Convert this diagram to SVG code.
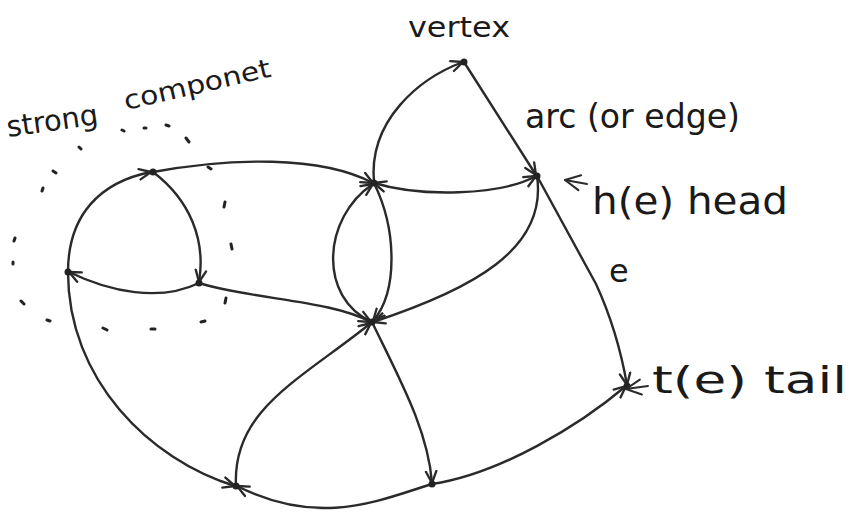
<svg xmlns="http://www.w3.org/2000/svg" width="851" height="529" viewBox="0 0 851 529">
<style>
.e{fill:none;stroke:#2a2a2a;stroke-width:2.4;stroke-linecap:round;stroke-linejoin:round}
.a{marker-end:url(#ah)}
.dot{fill:#222}
.t{font-family:"DejaVu Sans","Liberation Sans",sans-serif;fill:#1a1a1a}
.d{fill:none;stroke:#222;stroke-width:3;stroke-linecap:round}
</style>
<defs>
<marker id="ah" viewBox="0 0 12 12" refX="11" refY="6" markerWidth="14" markerHeight="14" orient="auto-start-reverse" markerUnits="userSpaceOnUse">
<path d="M1,1.5 L11,6 L1,10.5" fill="none" stroke="#2a2a2a" stroke-width="2" stroke-linecap="round" stroke-linejoin="round"/>
</marker>
<marker id="ah2" viewBox="0 0 12 12" refX="11" refY="6" markerWidth="18" markerHeight="18" orient="auto-start-reverse" markerUnits="userSpaceOnUse">
<path d="M1,1 L11,6 L1,11" fill="none" stroke="#2a2a2a" stroke-width="1.4" stroke-linecap="round" stroke-linejoin="round"/>
</marker>
</defs>
<g id="connectors">
<path class="e a" d="M68,272 C68,215 100,182 151,172"/>
<path class="e a" d="M153,172 C190,200 206,240 199,282"/>
<path class="e a" d="M199,283 C160,302 110,292 69,272"/>
<path class="e a" d="M153,172 C230,158 320,155 373,183"/>
<path class="e a" d="M374,183 C368,120 420,78 463,62"/>
<path class="e a" d="M464,62 L536,175"/>
<path class="e a" d="M374,183 C420,197 500,196 536,176" style="marker-start:url(#ah)"/>
<path class="e a" d="M372,322 C318,298 322,218 373,184"/>
<path class="e a" d="M374,183 C397,230 398,292 373,321"/>
<path class="e a" d="M537,176 C548,250 470,290 373,322"/>
<path class="e a" d="M199,283 C255,300 330,300 371,322"/>
<path class="e a" d="M236,486 C232,410 300,380 371,323"/>
<path class="e a" d="M372,322 C400,380 428,430 432,483"/>
<path class="e a" d="M68,272 C68,380 150,460 235,486"/>
<path class="e a" d="M432,484 C380,500 320,528 237,486"/>
<path class="e a" d="M432,484 C500,474 580,425 626,386"/>
<path class="e a" d="M537,176 L596,284 C608,310 620,345 627,385"/>
</g>
<g id="nodes">
<g id="vA"><circle class="dot" cx="153" cy="172" r="3.5" fill="#3a4a2a"/></g>
<g id="vB"><circle class="dot" cx="68" cy="272" r="3.5"/></g>
<g id="vC"><circle class="dot" cx="199" cy="283" r="3.5"/></g>
<g id="vD"><circle class="dot" cx="374" cy="183" r="3.5"/></g>
<g id="vE"><circle class="dot" cx="464" cy="62" r="3.5"/></g>
<g id="vF"><circle class="dot" cx="537" cy="176" r="3.5"/></g>
<g id="vG"><circle class="dot" cx="372" cy="322" r="3.5"/></g>
<g id="vH"><circle class="dot" cx="627" cy="386" r="3.5"/></g>
<g id="vI"><circle class="dot" cx="236" cy="486" r="3.5"/></g>
<g id="vJ"><circle class="dot" cx="432" cy="484" r="3.5"/></g>
</g>
<g id="strong-component">
<path class="d" d="M186,138 l3,4 M166,125 l3,1 M144,128 l2,0 M122,130 l2,1 M79,147 l2,2 M53,171 l3,2 M43,188 l-1,3 M15,238 l-1,3 M13,262 l0,2 M21,301 l3,3 M47,320 l3,1 M103,328 l4,2 M151,329 l4,0 M201,322 l4,-1 M226,298 l-1,5 M231,244 l1,5 M225,202 l-1,5 M208,167 l3,2"/>
<text class="t" x="8" y="137" font-size="29" transform="rotate(-8 8 137)" textLength="92" lengthAdjust="spacingAndGlyphs">strong</text>
<text class="t" x="126" y="110" font-size="26" transform="rotate(-13 126 110)" textLength="150" lengthAdjust="spacingAndGlyphs">componet</text>
</g>
<g id="labels">
<text class="t" x="408" y="37" font-size="28" textLength="102" lengthAdjust="spacingAndGlyphs">vertex</text>
<text class="t" x="525" y="128" font-size="33" textLength="215" lengthAdjust="spacingAndGlyphs">arc (or edge)</text>
<path class="e" d="M587,184 L565,180" style="marker-end:url(#ah2);stroke-width:2"/>
<text class="t" x="592" y="214" font-size="38" textLength="196" lengthAdjust="spacingAndGlyphs">h(e)  head</text>
<text class="t" x="609" y="282" font-size="32">e</text>
<path class="e" d="M648,386 L626,389" style="marker-end:url(#ah2);stroke-width:2"/>
<text class="t" x="652" y="393" font-size="38" textLength="195" lengthAdjust="spacingAndGlyphs">t(e)  tail</text>
</g>
</svg>
